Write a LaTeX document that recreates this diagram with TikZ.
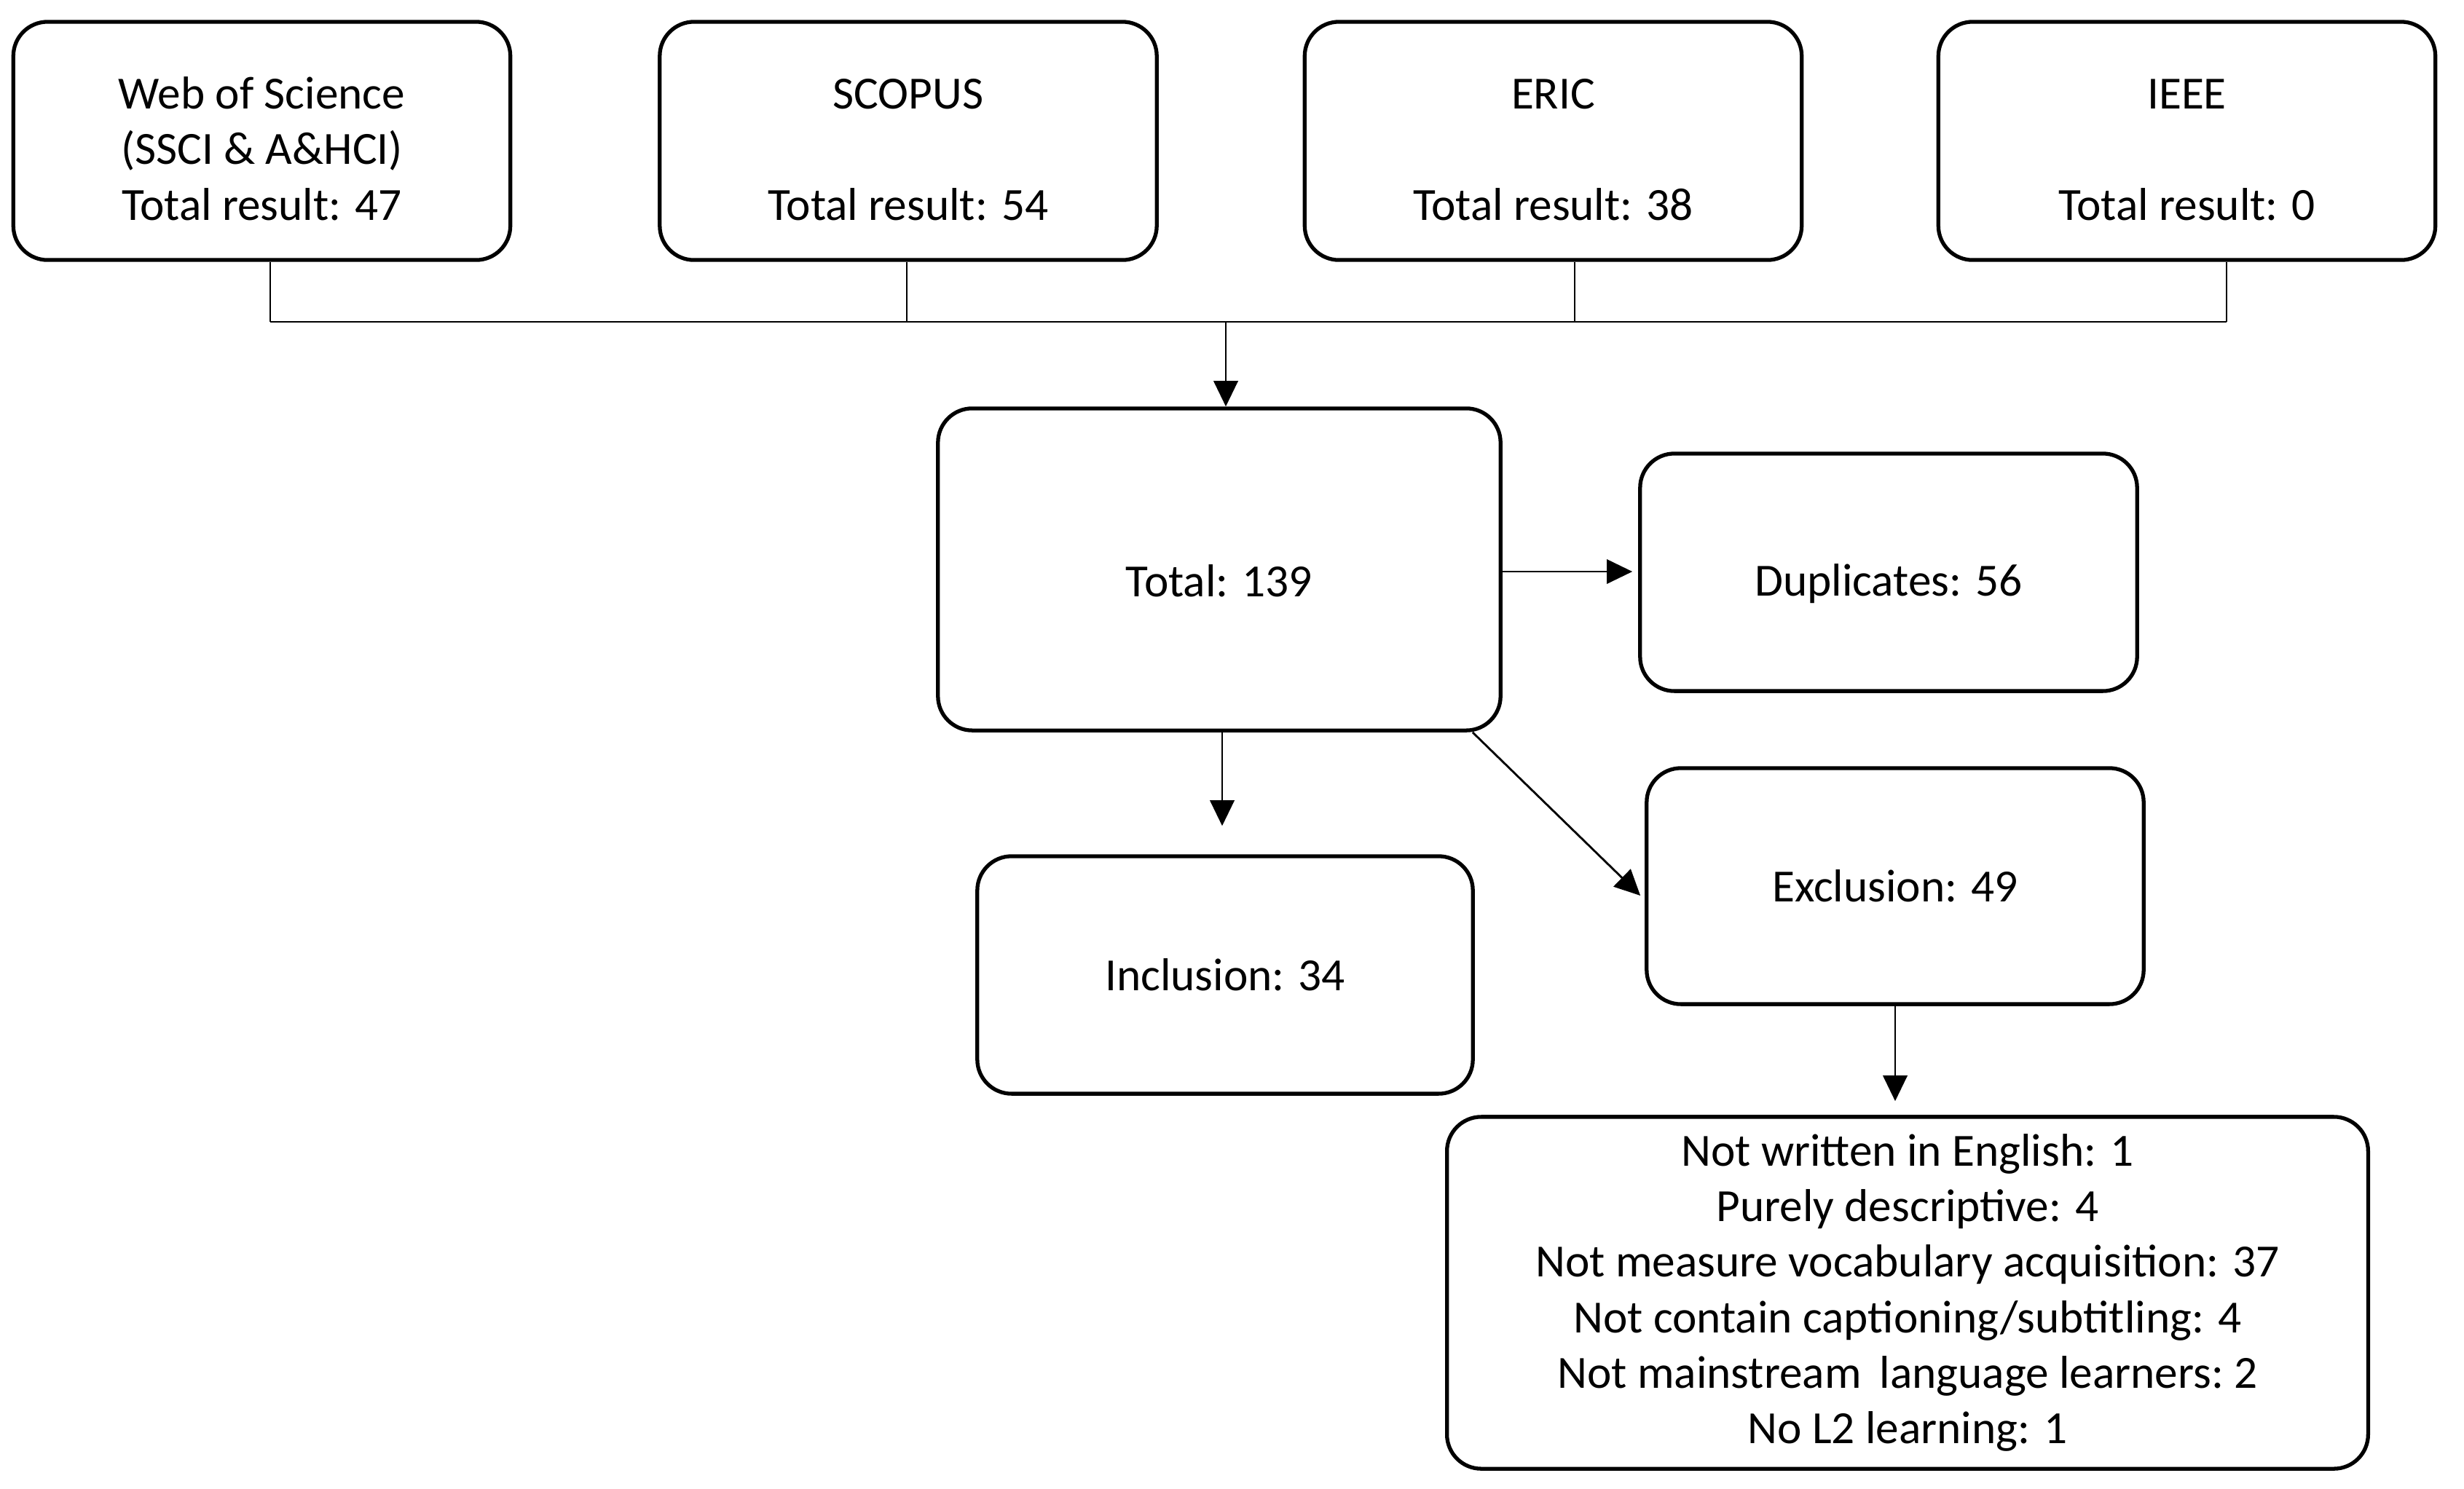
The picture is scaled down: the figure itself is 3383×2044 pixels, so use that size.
\documentclass[tikz,border=0pt]{standalone}
\usepackage{fontspec}
\setmainfont{Carlito}
\usetikzlibrary{arrows.meta}
\newcommand{\lowline}[1]{\rule{0pt}{#1}}
\begin{document}
\begin{tikzpicture}[x=0.01cm,y=-0.01cm,
  box/.style={draw=black,line width=1.5pt,rounded corners=0.47cm,align=center,
    font=\fontsize{18}{21.7}\selectfont,inner sep=0pt},
  src/.style={box,minimum width=6.82cm,minimum height=3.27cm},
  link/.style={line width=0.8pt},
  arr/.style={link,-{Triangle[length=10pt,width=9.5pt]}}]
\useasboundingbox (0,0) rectangle (3383,2044);
\node[src] (wos) at (359.5,193.5) {\lowline{0.65cm}Web of Science\\(SSCI \& A\&HCI)\\Total result: 47};
\node[src] (scopus) at (1247,193.5) {\lowline{0.65cm}SCOPUS\\\strut\\Total result: 54};
\node[src] (eric) at (2132.5,193.5) {\lowline{0.65cm}ERIC\\\strut\\Total result: 38};
\node[src] (ieee) at (3002.5,193.5) {\lowline{0.65cm}IEEE\\\strut\\Total result: 0};
\node[box,minimum width=7.72cm,minimum height=4.42cm] (total) at (1674,782) {\lowline{0.75cm}Total: 139};
\node[box,minimum width=6.82cm,minimum height=3.26cm] (dup) at (2593,786) {\lowline{0.75cm}Duplicates: 56};
\node[box,minimum width=6.80cm,minimum height=3.26cm] (incl) at (1682,1339) {Inclusion: 34};
\node[box,minimum width=6.82cm,minimum height=3.24cm] (excl) at (2602,1217) {Exclusion: 49};
\node[box,minimum width=12.64cm,minimum height=4.83cm] (crit) at (2619,1775.5)
  {Not written in English: 1\\Purely descriptive: 4\\Not measure vocabulary acquisition: 37\\Not contain captioning/subtitling: 4\\Not mainstream\ \,language learners:\ 2\\No L2 learning: 1};
\coordinate (busL) at (371,442);
\coordinate (busR) at (3057,442);
\coordinate (busM) at (1683,442);
\draw[link] ([xshift=0.115cm]wos.south) -- ([xshift=0.115cm]wos.south |- busL);
\draw[link] ([xshift=-0.02cm]scopus.south) -- ([xshift=-0.02cm]scopus.south |- busL);
\draw[link] ([xshift=0.295cm]eric.south) -- ([xshift=0.295cm]eric.south |- busL);
\draw[link] ([xshift=0.545cm]ieee.south) -- ([xshift=0.545cm]ieee.south |- busL);
\draw[link] (busL) -- (busR);
\draw[arr] (busM) -- (busM |- total.north);
\draw[arr,shorten >=0.08cm] ([yshift=-0.03cm]total.east) -- ([yshift=-0.03cm]total.east -| dup.west);
\draw[arr,shorten >=0.39cm] ([xshift=0.04cm]total.south) -- ([xshift=0.04cm]total.south |- incl.north);
\draw[arr] ([xshift=-0.41cm]total.south east) -- ([xshift=-0.06cm,yshift=-0.13cm]excl.west);
\draw[arr,shorten >=0.19cm] (excl.south) -- (excl.south |- crit.north);
\end{tikzpicture}
\end{document}
